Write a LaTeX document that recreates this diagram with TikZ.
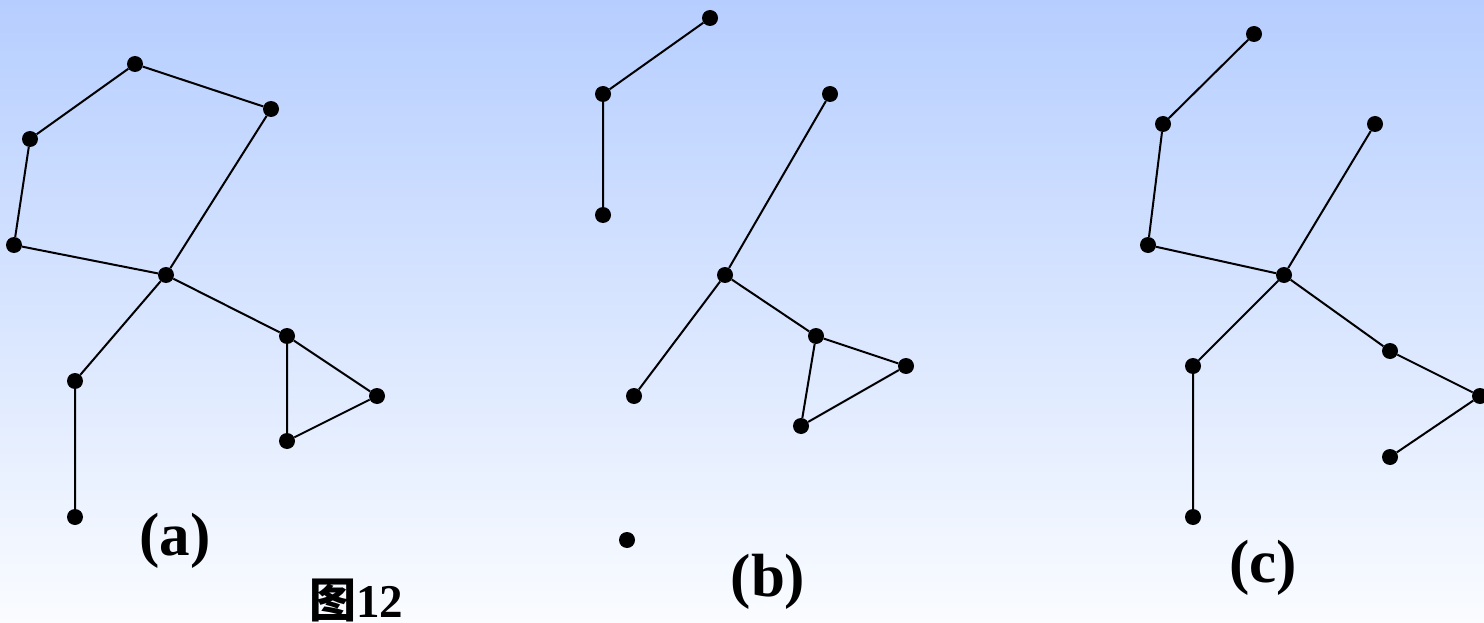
\documentclass[tikz,border=0pt]{standalone}
\usepackage{fontspec}
\setmainfont{Liberation Serif}
\newfontfamily\cjk{Noto Sans CJK SC}
\definecolor{bgtop}{RGB}{182,206,255}
\definecolor{bgbot}{RGB}{250,252,255}
\begin{document}
\begin{tikzpicture}[x=1pt,y=-1pt,
  vtx/.style={circle,fill=black,inner sep=0pt,minimum size=16pt},
  edge/.style={line width=2pt,black},
  lbl/.style={font=\fontsize{61}{61}\selectfont\bfseries,inner sep=0pt}]
\path[use as bounding box] (0,0) rectangle (1484,623);
\shade[top color=bgtop,bottom color=bgbot] (0,0) rectangle (1484,623);
% (a)
\node[vtx] (a1) at (135,64) {};
\node[vtx] (a2) at (271,109) {};
\node[vtx] (a3) at (30,139) {};
\node[vtx] (a4) at (14,245) {};
\node[vtx] (a5) at (166,275) {};
\node[vtx] (a6) at (287,336) {};
\node[vtx] (a7) at (377,396) {};
\node[vtx] (a8) at (287,441) {};
\node[vtx] (a9) at (75,381) {};
\node[vtx] (a10) at (75,517) {};
\draw[edge] (a3)--(a1) (a1)--(a2) (a2)--(a5) (a3)--(a4) (a4)--(a5)
  (a5)--(a6) (a6)--(a7) (a7)--(a8) (a8)--(a6) (a5)--(a9) (a9)--(a10);
% (b)
\node[vtx] (b1) at (710,18) {};
\node[vtx] (b2) at (603,94) {};
\node[vtx] (b3) at (603,215) {};
\node[vtx] (b4) at (830,94) {};
\node[vtx] (b5) at (725,275) {};
\node[vtx] (b6) at (816,336) {};
\node[vtx] (b7) at (906,366) {};
\node[vtx] (b8) at (801,426) {};
\node[vtx] (b9) at (634,396) {};
\node[vtx] (b10) at (627,540) {};
\draw[edge] (b1)--(b2) (b2)--(b3) (b4)--(b5) (b5)--(b6) (b6)--(b7)
  (b7)--(b8) (b8)--(b6) (b5)--(b9);
% (c)
\node[vtx] (c1) at (1254,34) {};
\node[vtx] (c2) at (1163,124) {};
\node[vtx] (c3) at (1148,245) {};
\node[vtx] (c4) at (1375,124) {};
\node[vtx] (c5) at (1284,275) {};
\node[vtx] (c6) at (1390,351) {};
\node[vtx] (c7) at (1480,396) {};
\node[vtx] (c8) at (1390,457) {};
\node[vtx] (c9) at (1193,366) {};
\node[vtx] (c10) at (1193,517) {};
\draw[edge] (c1)--(c2) (c2)--(c3) (c3)--(c5) (c4)--(c5) (c5)--(c6)
  (c6)--(c7) (c7)--(c8) (c5)--(c9) (c9)--(c10);
% labels
\node[lbl] (la) at (175,541) {(a)};
\node[lbl] (lb) at (768,582) {(b)};
\node[lbl] (lc) at (1263,568) {(c)};
\node[inner sep=0pt,font=\fontsize{47}{47}\selectfont\bfseries] (fig) at (356,600) {{\cjk 图}12};
\end{tikzpicture}
\end{document}
